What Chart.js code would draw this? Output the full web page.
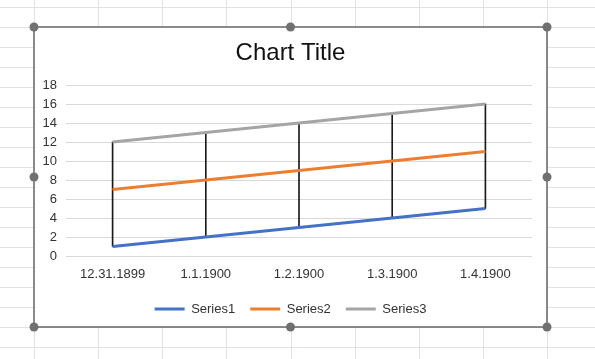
<!DOCTYPE html>
<html>
<head>
<meta charset="utf-8">
<script src="https://cdn.jsdelivr.net/npm/chart.js@4/dist/chart.umd.min.js"></script>
<style>
  html, body { margin: 0; padding: 0; background: #fff; }
  #wrap { position: relative; width: 595px; height: 359px; }
</style>
</head>
<body>
<div id="wrap"><canvas id="cv" width="595" height="359"></canvas></div>
<script>
// chart data
const categories = ['12.31.1899', '1.1.1900', '1.2.1900', '1.3.1900', '1.4.1900'];
const series1 = [1, 2, 3, 4, 5];
const series2 = [7, 8, 9, 10, 11];
const series3 = [12, 13, 14, 15, 16];
const yTicks = { min: 0, max: 18, step: 2 };

const FONT = '"Liberation Sans", Arial, sans-serif';

// spreadsheet backdrop + chart frame with selection handles
const sheet = {
  id: 'sheet',
  beforeDraw(chart) {
    const c = chart.ctx;
    c.save();
    c.fillStyle = '#fff';
    c.fillRect(0, 0, 595, 359);
    c.strokeStyle = '#e1e1e1';
    c.lineWidth = 1;
    for (let i = 0; i < 9; i++) {
      const x = Math.round(34 + i * 64.125) + 0.5;
      c.beginPath(); c.moveTo(x, 0); c.lineTo(x, 359); c.stroke();
    }
    for (let y = 7; y < 359; y += 20) {
      c.beginPath(); c.moveTo(0, y + 0.5); c.lineTo(595, y + 0.5); c.stroke();
    }
    c.fillStyle = '#fff';
    c.fillRect(34, 27, 513, 300);
    c.strokeStyle = '#666';
    c.lineWidth = 1.5;
    c.strokeRect(34, 27, 513, 300);
    c.fillStyle = '#707070';
    [[34,27],[290.5,27],[547,27],[34,177],[547,177],[34,327],[290.5,327],[547,327]].forEach(([x, y]) => {
      c.beginPath(); c.arc(x, y, 4.5, 0, Math.PI * 2); c.fill();
    });
    c.restore();
  }
};

new Chart(document.getElementById('cv'), {
  data: {
    labels: categories,
    datasets: [
      { type: 'line', label: 'Series1', data: series1, borderColor: '#4472C4', backgroundColor: '#4472C4', borderWidth: 3, pointRadius: 0, order: 1 },
      { type: 'line', label: 'Series2', data: series2, borderColor: '#ED7D31', backgroundColor: '#ED7D31', borderWidth: 3, pointRadius: 0, order: 1 },
      { type: 'line', label: 'Series3', data: series3, borderColor: '#A5A5A5', backgroundColor: '#A5A5A5', borderWidth: 3, pointRadius: 0, order: 1 },
      // high-low lines
      { type: 'bar', label: 'hl', data: categories.map((c, i) => [series1[i], series3[i]]), backgroundColor: '#1a1a1a', barThickness: 1, order: 5 }
    ]
  },
  options: {
    responsive: false,
    animation: false,
    layout: { padding: { left: 34, right: 48, top: 27, bottom: 33.5 } },
    scales: {
      x: {
        offset: true,
        grid: { display: false, drawTicks: false },
        border: { display: false },
        ticks: { color: '#333', font: { family: FONT, size: 13 }, padding: 11, maxRotation: 0 },
        afterFit: s => { s.height = 31.5; }
      },
      y: {
        min: yTicks.min, max: yTicks.max,
        grid: { color: '#d9d9d9', drawTicks: false },
        border: { display: false },
        ticks: { stepSize: yTicks.step, color: '#333', font: { family: FONT, size: 13 }, padding: 9 },
        afterFit: s => { s.width = 32; }
      },
      yR: {
        position: 'right',
        grid: { display: false, drawTicks: false },
        border: { display: false },
        ticks: { display: false },
        afterFit: s => { s.width = 15; }
      }
    },
    plugins: {
      title: {
        display: true, text: 'Chart Title', color: '#111',
        font: { family: FONT, size: 24, weight: 'normal' },
        padding: { top: 12, bottom: 17.2 }
      },
      legend: {
        position: 'bottom',
        labels: {
          color: '#333', font: { family: FONT, size: 13 },
          boxWidth: 30, boxHeight: 3, padding: 15,
          generateLabels: chart => Chart.defaults.plugins.legend.labels.generateLabels(chart)
            .filter(it => it.datasetIndex < 3)
            .map(it => ({ ...it, lineWidth: 0 }))
        }
      },
      tooltip: { enabled: false }
    }
  },
  plugins: [sheet]
});
</script>
</body>
</html>
